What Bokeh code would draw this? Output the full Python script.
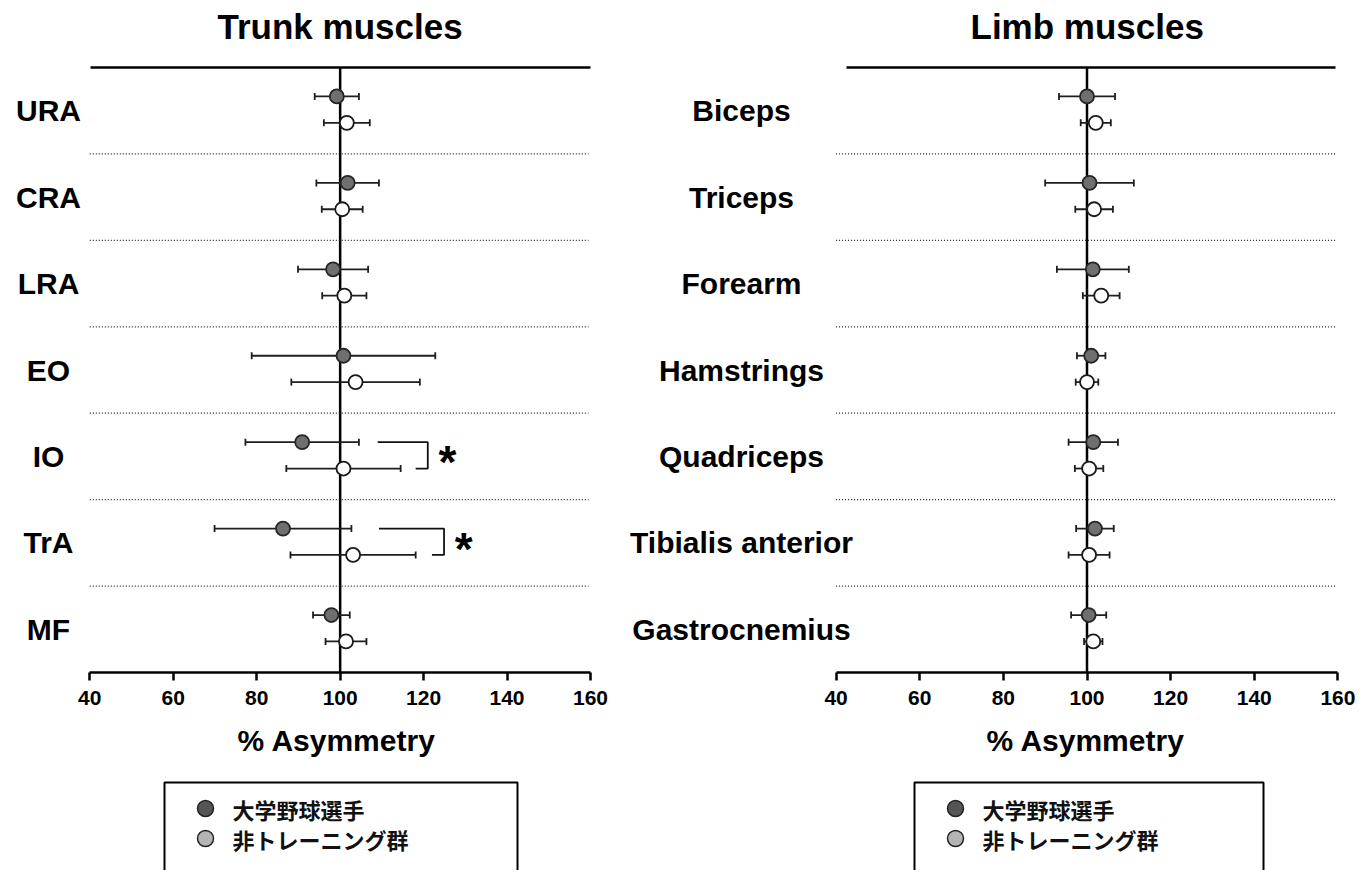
from bokeh.plotting import figure
from bokeh.models import (Range1d, LinearAxis, FixedTicker, Span, Whisker, TeeHead,
                          ColumnDataSource, Title)
from bokeh.layouts import column, row
from bokeh.core.properties import value
from bokeh.embed import file_html
from bokeh.resources import INLINE

# ---- data: % asymmetry, mean and SD per muscle ----
trunk_muscles = ["URA", "CRA", "LRA", "EO", "IO", "TrA", "MF"]
trunk_ath_mean = [99.2, 101.8, 98.3, 100.8, 90.9, 86.3, 97.9]
trunk_ath_sd = [5.3, 7.5, 8.4, 22.0, 13.6, 16.4, 4.4]
trunk_ctl_mean = [101.6, 100.5, 101.0, 103.7, 100.8, 103.1, 101.4]
trunk_ctl_sd = [5.5, 4.9, 5.3, 15.4, 13.7, 15.0, 4.9]

limb_muscles = ["Biceps", "Triceps", "Forearm", "Hamstrings", "Quadriceps",
                "Tibialis anterior", "Gastrocnemius"]
limb_ath_mean = [100.0, 100.6, 101.4, 101.0, 101.5, 101.9, 100.4]
limb_ath_sd = [6.7, 10.6, 8.6, 3.4, 5.9, 4.5, 4.2]
limb_ctl_mean = [102.1, 101.7, 103.4, 100.0, 100.5, 100.5, 101.5]
limb_ctl_sd = [3.6, 4.5, 4.4, 2.7, 3.4, 4.9, 2.2]

x_ticks = [40, 60, 80, 100, 120, 140, 160]
group_labels = ["大学野球選手", "非トレーニング群"]

# significance brackets (trunk panel): rows and bracket extents on the x scale
sig_rows = ["IO", "TrA"]
sig_x_start = [109.0, 109.3]
sig_x_end = [121.0, 124.9]
sig_x_short = [118.1, 122.0]
sig_star_x = [125.7, 129.6]

FONT = "Liberation Sans"
CJK = "Noto Sans CJK JP"
ATH_OFF = 0.165    # athletes drawn slightly above the row centre
CTL_OFF = -0.14    # controls slightly below
ATH_FILL = "#6f6f6f"
BAR = "#1e1e1e"


def make_panel(title, muscles, a_mean, a_sd, c_mean, c_sd, canvas_w,
               px40, px160, label_cx, title_off, xlabel_off, top_bounds,
               brackets=False):
    """One panel; pixel arguments are relative to the panel's own canvas."""
    n = len(muscles)
    centers = [n - i - 0.5 for i in range(n)]
    s = (px160 - px40) / 120.0
    x0 = 40 - px40 / s
    x1 = 160 + (canvas_w - px160) / s
    p = figure(width=canvas_w, height=775,
               x_range=Range1d(x0, x1), y_range=Range1d(0, n),
               output_backend="svg", toolbar_location=None,
               x_axis_location=None, y_axis_location=None,
               min_border_left=0, min_border_right=0,
               min_border_top=67, min_border_bottom=103)
    p.outline_line_color = None
    p.grid.grid_line_color = None

    p.title = Title(text=title, align="left", offset=title_off, text_font=FONT,
                    text_font_style="bold", text_font_size="35px",
                    text_color="black", standoff=8)

    # plain rule along the top of the panel; its single hidden tick only
    # reserves room between the rule and the title
    top = LinearAxis(ticker=FixedTicker(ticks=[100]), bounds=top_bounds,
                     axis_line_width=2.5, axis_line_color="black",
                     major_tick_out=18, major_tick_in=0,
                     major_tick_line_color=None,
                     minor_tick_out=0, minor_tick_in=0,
                     major_label_standoff=0,
                     major_label_overrides={100: ""},
                     major_label_text_font_size="0px")
    p.add_layout(top, "above")

    bot = LinearAxis(ticker=FixedTicker(ticks=x_ticks), bounds=(40, 160),
                     axis_line_width=2.5, axis_line_color="black",
                     major_tick_line_width=2.5, major_tick_line_color="black",
                     major_tick_out=8, major_tick_in=0,
                     minor_tick_out=0, minor_tick_in=0,
                     major_label_standoff=10,
                     major_label_text_font=FONT, major_label_text_font_style="bold",
                     major_label_text_font_size="21px", major_label_text_color="black")
    p.add_layout(bot, "below")
    p.add_layout(Title(text="% Asymmetry", align="left", offset=xlabel_off,
                       text_font=FONT, text_font_style="bold",
                       text_font_size="30px", text_color="black", standoff=28),
                 "below")

    p.add_layout(Span(location=100, dimension="height", line_color="black",
                      line_width=2.5, level="underlay"))

    seps = list(range(1, n))
    p.segment(x0=[40] * len(seps), y0=seps, x1=[159.5] * len(seps), y1=seps,
              line_color="#222222", line_width=1.3, line_dash="1 2")

    # muscle names, centred in the space left of the scale
    label_x = 40 + (label_cx - px40) / s
    p.text(x=[label_x] * n, y=centers, text=muscles,
           text_font=value(FONT), text_font_style="bold", text_font_size="30px",
           text_align="center", text_baseline="middle", text_color="black")

    groups = [
        (a_mean, a_sd, ATH_OFF, ATH_FILL, "#262626"),
        (c_mean, c_sd, CTL_OFF, "white", "#1a1a1a"),
    ]
    for means, sds, off, fill, edge in groups:
        src = ColumnDataSource(dict(
            m=means, y=[c + off for c in centers],
            lo=[m - sd for m, sd in zip(means, sds)],
            hi=[m + sd for m, sd in zip(means, sds)]))
        p.add_layout(Whisker(source=src, base="y", lower="lo", upper="hi",
                             dimension="width", line_color=BAR, line_width=1.8,
                             upper_head=TeeHead(size=7, line_width=1.8,
                                                line_color=BAR),
                             lower_head=TeeHead(size=7, line_width=1.8,
                                                line_color=BAR)))
        p.scatter("m", "y", source=src, size=14, marker="circle",
                  fill_color=fill, line_color=edge, line_width=1.8)

    if brackets:
        xs, ys, ys_star = [], [], []
        for name, xa, xb, xc in zip(sig_rows, sig_x_start, sig_x_end, sig_x_short):
            c = centers[muscles.index(name)]
            xs.append([xa, xb, xb, xc])
            ys.append([c + ATH_OFF, c + ATH_OFF, c + CTL_OFF, c + CTL_OFF])
            ys_star.append(c)
        p.multi_line(xs=xs, ys=ys, line_color="#111111", line_width=1.8)
        p.text(x=sig_star_x, y=ys_star, text=["*"] * len(ys_star),
               text_font=value(FONT), text_font_style="bold",
               text_font_size="46px", text_align="center",
               text_baseline="middle", y_offset=6, text_color="black")
    return p


pL = make_panel("Trunk muscles", trunk_muscles, trunk_ath_mean, trunk_ath_sd,
                trunk_ctl_mean, trunk_ctl_sd, canvas_w=615,
                px40=89.3, px160=590.0, label_cx=48, title_off=217,
                xlabel_off=237, top_bounds=(40.2, 160), brackets=True)
pR = make_panel("Limb muscles", limb_muscles, limb_ath_mean, limb_ath_sd,
                limb_ctl_mean, limb_ctl_sd, canvas_w=747,
                px40=220.6, px160=722.4, label_cx=126, title_off=355,
                xlabel_off=371, top_bounds=(42.5, 159.4))

# group key boxes under each panel
lg = figure(width=1362, height=95, x_range=Range1d(0, 1362), y_range=Range1d(95, 0),
            output_backend="svg", toolbar_location=None,
            x_axis_location=None, y_axis_location=None, min_border=0)
lg.outline_line_color = None
lg.grid.grid_line_color = None
box_left = [164, 914]
box_right = [517, 1263]
lg.quad(left=box_left, right=box_right, top=[7, 7], bottom=[130, 130],
        fill_color=None, line_color="black", line_width=2)
key_fill = ["#555555", "#b4b4b4"]
kx, ky, kf, tx, tt = [], [], [], [], []
for bl in box_left:
    for j, lab in enumerate(group_labels):
        kx.append(bl + 41)
        ky.append(33 + 30 * j)
        kf.append(key_fill[j])
        tx.append(bl + 68)
        tt.append(lab)
lg.scatter(x=kx, y=ky, size=16, fill_color=kf, line_color="#222222", line_width=1.5)
lg.text(x=tx, y=ky, text=tt, text_font=value(CJK), text_font_style="bold",
        text_font_size="22px", text_align="left", text_baseline="middle",
        text_color="#111111")

layout = column(row(pL, pR), lg)
open("out.html", "w").write(file_html(layout, INLINE))
